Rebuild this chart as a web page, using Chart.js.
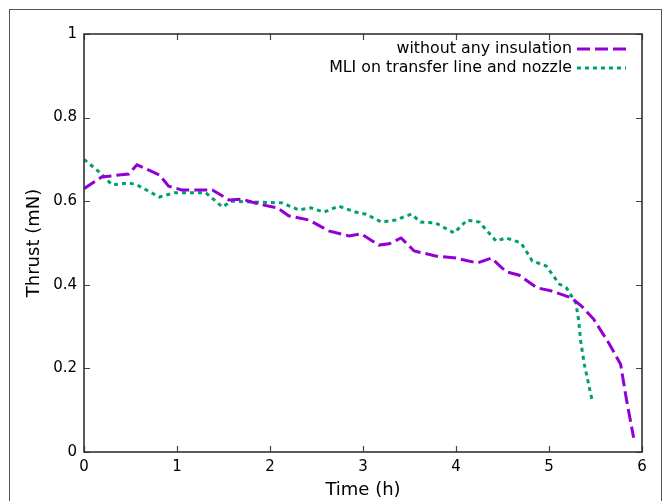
<!DOCTYPE html>
<html>
<head>
<meta charset="utf-8">
<script src="https://cdn.jsdelivr.net/npm/chart.js@4"></script>
<style>
  html, body { margin: 0; padding: 0; background: #fff; }
  canvas { display: block; }
</style>
</head>
<body>
<canvas id="thrustChart" width="665" height="501"></canvas>
<script>
// Series values
const seriesLabels = ['without any insulation', 'MLI on transfer line and nozzle'];

const timeNoInsulation = [0, 0.19, 0.48, 0.57, 0.81, 0.91, 1.05, 1.38, 1.56, 1.70, 1.88, 2.08, 2.20, 2.42, 2.63, 2.85, 2.98, 3.17, 3.28, 3.41, 3.55, 3.78, 4.00, 4.23, 4.38, 4.54, 4.68, 4.87, 5.03, 5.24, 5.35, 5.48, 5.65, 5.77, 5.83, 5.91];
const thrustNoInsulation = [0.63, 0.658, 0.665, 0.687, 0.663, 0.636, 0.627, 0.627, 0.603, 0.605, 0.593, 0.584, 0.565, 0.555, 0.529, 0.517, 0.522, 0.495, 0.498, 0.512, 0.481, 0.469, 0.464, 0.452, 0.464, 0.431, 0.423, 0.393, 0.385, 0.369, 0.349, 0.318, 0.258, 0.21, 0.129, 0.034];

const timeMLI = [0, 0.18, 0.30, 0.48, 0.57, 0.81, 0.97, 1.31, 1.49, 1.58, 1.81, 2.13, 2.31, 2.44, 2.58, 2.74, 2.92, 3.03, 3.20, 3.35, 3.52, 3.62, 3.78, 3.98, 4.12, 4.25, 4.43, 4.54, 4.70, 4.82, 4.97, 5.11, 5.19, 5.29, 5.32, 5.34, 5.38, 5.46];
const thrustMLI = [0.70, 0.667, 0.639, 0.644, 0.639, 0.61, 0.62, 0.62, 0.586, 0.60, 0.598, 0.596, 0.579, 0.584, 0.574, 0.588, 0.574, 0.569, 0.550, 0.555, 0.569, 0.550, 0.548, 0.524, 0.555, 0.550, 0.505, 0.512, 0.500, 0.457, 0.445, 0.402, 0.392, 0.356, 0.313, 0.266, 0.21, 0.127];

const xRange = [0, 6];
const yRange = [0, 1];
const yStep = 0.2;

const toPoints = (xs, ys) => xs.map((x, i) => ({ x: x, y: ys[i] }));

Chart.defaults.font.family = "'DejaVu Sans', sans-serif";
Chart.defaults.color = '#000';

// gnuplot style: white bg, outer frame, plot border, inward mirrored ticks, key
const gnuplotLook = {
  id: 'gnuplotLook',
  beforeDraw(chart) {
    const ctx = chart.ctx;
    ctx.save();
    ctx.fillStyle = '#fff';
    ctx.fillRect(0, 0, chart.width, chart.height);
    ctx.restore();
  },
  afterDraw(chart) {
    const ctx = chart.ctx;
    const a = chart.chartArea;
    const xs = chart.scales.x, ys = chart.scales.y;
    ctx.save();

    // outer frame (runs off the bottom of the picture)
    ctx.strokeStyle = '#555';
    ctx.lineWidth = 1;
    ctx.strokeRect(9.5, 9.5, 652, 600);

    // ticks, inward on all four sides
    ctx.strokeStyle = '#444';
    ctx.lineWidth = 1.2;
    ctx.beginPath();
    xs.ticks.forEach(t => {
      const px = Math.round(xs.getPixelForValue(t.value)) + 0.5;
      ctx.moveTo(px, a.bottom); ctx.lineTo(px, a.bottom - 6);
      ctx.moveTo(px, a.top); ctx.lineTo(px, a.top + 6);
    });
    ys.ticks.forEach(t => {
      const py = Math.round(ys.getPixelForValue(t.value)) + 0.5;
      ctx.moveTo(a.left, py); ctx.lineTo(a.left + 6, py);
      ctx.moveTo(a.right, py); ctx.lineTo(a.right - 6, py);
    });
    ctx.stroke();

    // plot border
    ctx.strokeStyle = '#333';
    ctx.lineWidth = 1.6;
    ctx.strokeRect(a.left, a.top, a.right - a.left, a.bottom - a.top);

    // key, top right
    ctx.font = "15.8px 'DejaVu Sans', sans-serif";
    ctx.textAlign = 'right';
    ctx.textBaseline = 'middle';
    const rowY = [49, 68];
    chart.data.datasets.forEach((ds, i) => {
      const y = rowY[i];
      ctx.fillStyle = '#000';
      ctx.fillText(ds.label, 572, y);
      ctx.strokeStyle = ds.borderColor;
      ctx.lineWidth = ds.borderWidth;
      ctx.setLineDash(ds.borderDash);
      ctx.beginPath();
      ctx.moveTo(577, y);
      ctx.lineTo(626, y);
      ctx.stroke();
      ctx.setLineDash([]);
    });
    ctx.restore();
  }
};

const ctx = document.getElementById('thrustChart').getContext('2d');

new Chart(ctx, {
  type: 'line',
  data: {
    datasets: [
      {
        label: seriesLabels[0],
        data: toPoints(timeNoInsulation, thrustNoInsulation),
        borderColor: '#9400D3',
        borderWidth: 3,
        borderDash: [13, 5],
        borderCapStyle: 'butt',
        pointRadius: 0,
        tension: 0,
        fill: false
      },
      {
        label: seriesLabels[1],
        data: toPoints(timeMLI, thrustMLI),
        borderColor: '#009E73',
        borderWidth: 3,
        borderDash: [4, 4],
        borderCapStyle: 'butt',
        pointRadius: 0,
        tension: 0,
        fill: false
      }
    ]
  },
  options: {
    responsive: false,
    animation: false,
    devicePixelRatio: 1,
    layout: { padding: { left: 0, right: 23, top: 34, bottom: 0 } },
    plugins: {
      legend: { display: false },
      tooltip: { enabled: false }
    },
    scales: {
      x: {
        type: 'linear',
        min: xRange[0],
        max: xRange[1],
        grid: { display: false, drawTicks: false },
        border: { display: false },
        ticks: { stepSize: 1, padding: 6, font: { size: 15 }, color: '#000' },
        title: { display: true, text: 'Time (h)', font: { size: 18 }, color: '#000', padding: { top: 0, bottom: 0 } },
        afterFit(s) { s.height = 49; s.paddingLeft = 0; s.paddingRight = 0; }
      },
      y: {
        type: 'linear',
        min: yRange[0],
        max: yRange[1],
        grid: { display: false, drawTicks: false },
        border: { display: false },
        ticks: {
          stepSize: yStep, padding: 7, font: { size: 15 }, color: '#000',
          callback: v => String(Math.round(v * 10) / 10)
        },
        title: { display: true, text: 'Thrust (mN)', font: { size: 18 }, color: '#000', padding: { top: 24, bottom: 0 } },
        afterFit(s) { s.width = 84; s.paddingTop = 0; s.paddingBottom = 0; }
      }
    }
  },
  plugins: [gnuplotLook]
});
</script>
</body>
</html>
